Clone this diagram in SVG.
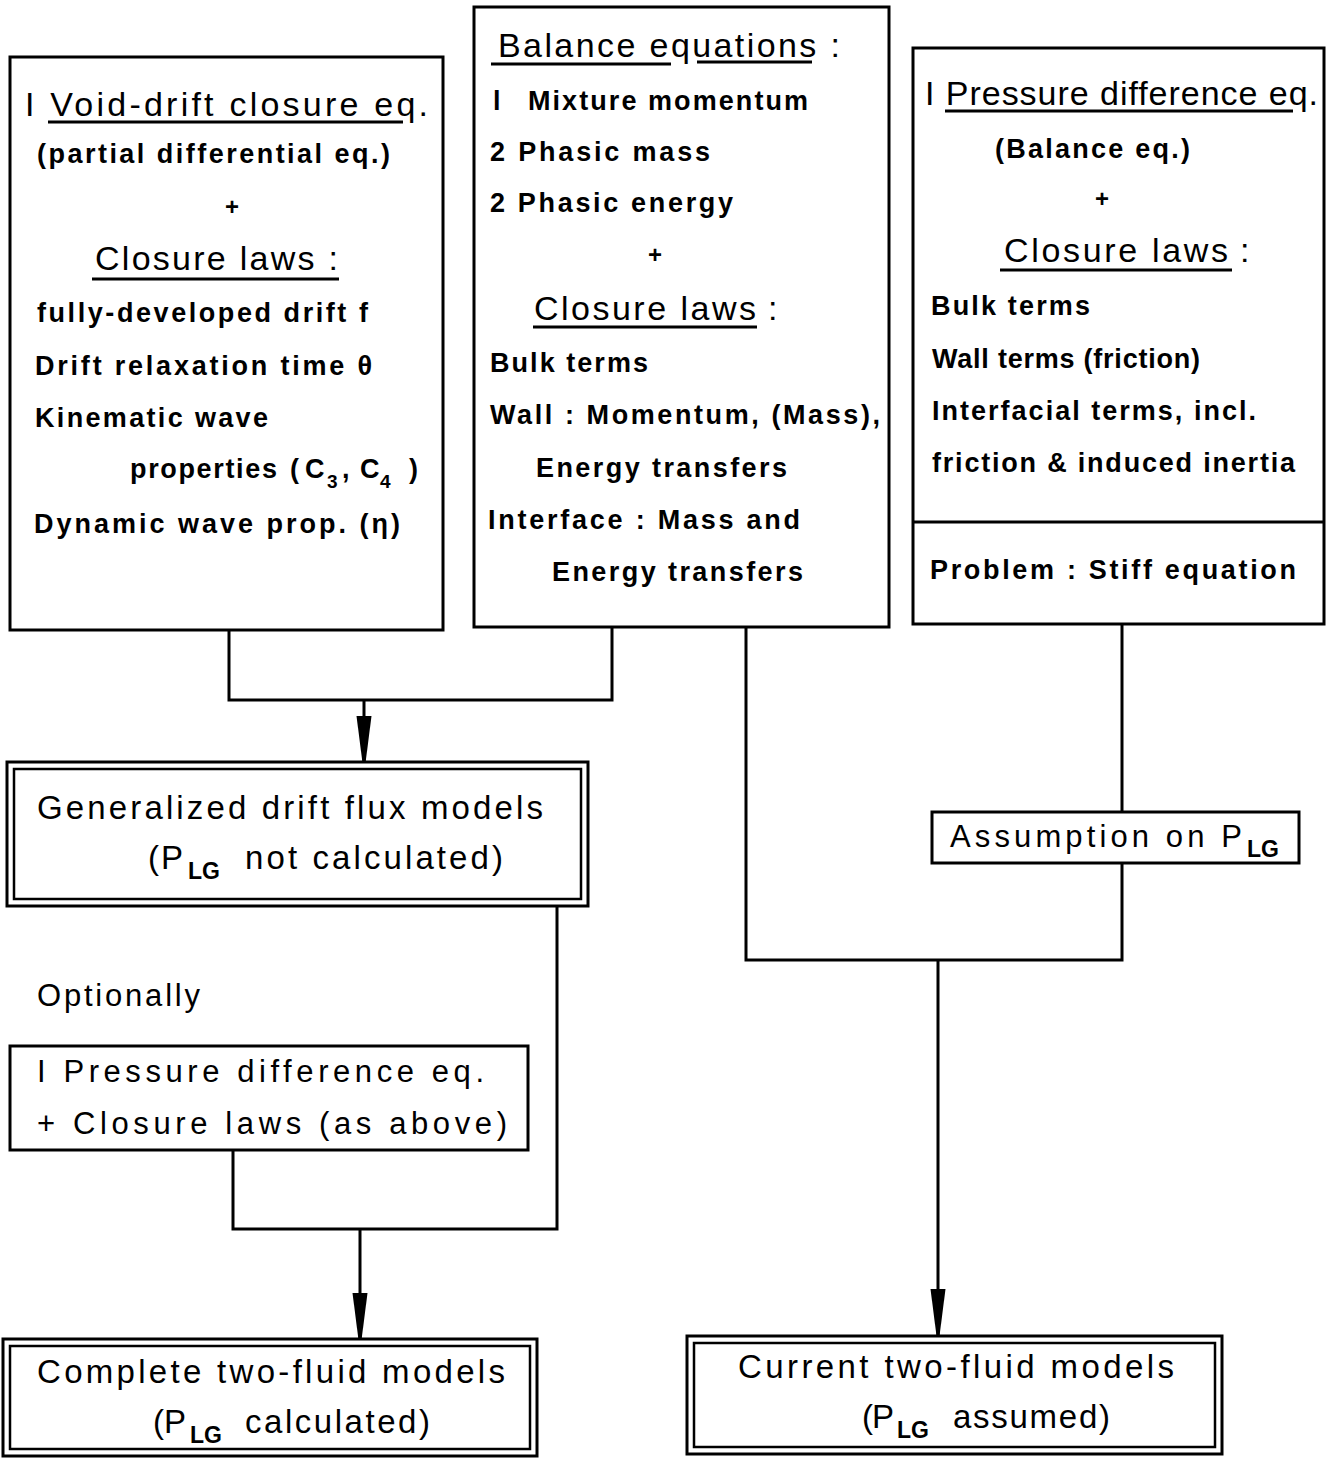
<svg xmlns="http://www.w3.org/2000/svg" width="1326" height="1458" viewBox="0 0 1326 1458">
<style>
text{font-family:"Liberation Sans","DejaVu Sans",Arial,sans-serif;fill:#000}
.h{font-size:34px;font-weight:normal}
.b{font-size:27px;font-weight:bold}
.m{font-size:33px;font-weight:normal}
.s{font-size:31px;font-weight:normal}
.sub{font-size:23px;font-weight:bold}
.subb{font-size:19px;font-weight:bold}
.plus{font-size:24px;font-weight:bold}
.box{fill:#fff;stroke:#000;stroke-width:3}
.inner{fill:none;stroke:#000;stroke-width:2.5}
.ul{stroke:#000;stroke-width:3}
.con{fill:none;stroke:#000;stroke-width:3}
</style>
<defs>
<marker id="arr" viewBox="0 -8 48 16" refX="47" refY="0" markerWidth="48" markerHeight="16" markerUnits="userSpaceOnUse" orient="auto">
<path d="M0,-7.5 L47,-1.5 L47,1.5 L0,7.5 Z" fill="#000"/>
</marker>
</defs>
<rect width="1326" height="1458" fill="#fff"/>

<g id="connectors">
<path class="con" d="M229,630 V700 H612 V627"/>
<line class="con" x1="364" y1="700" x2="364" y2="763" marker-end="url(#arr)"/>
<path class="con" d="M557,906 V1229 H233 V1150"/>
<line class="con" x1="360" y1="1229" x2="360" y2="1340" marker-end="url(#arr)"/>
<path class="con" d="M1122,624 V812"/>
<path class="con" d="M1122,863 V960 H746 V627"/>
<line class="con" x1="938" y1="960" x2="938" y2="1336" marker-end="url(#arr)"/>
</g>

<g id="void-drift">
<rect class="box" x="10" y="57" width="433" height="573"/>
<text class="h" x="25" y="116" textLength="403">I Void-drift closure eq.</text>
<line class="ul" x1="48" y1="122" x2="403" y2="122"/>
<text class="b" x="37" y="163" textLength="353">(partial differential eq.)</text>
<text class="plus" x="232" y="215" text-anchor="middle">+</text>
<text class="h" x="95" y="270" textLength="243">Closure laws :</text>
<line class="ul" x1="92" y1="279" x2="339" y2="279"/>
<text class="b" x="37" y="322" textLength="331">fully-developed drift f</text>
<text class="b" x="35" y="375" textLength="337">Drift relaxation time θ</text>
<text class="b" x="35" y="427" textLength="233">Kinematic wave</text>
<text class="b" y="478"><tspan x="130" textLength="147">properties</tspan><tspan x="290">(</tspan><tspan x="305">C</tspan><tspan class="subb" x="327" y="488">3</tspan><tspan x="342" y="478">,</tspan><tspan x="360">C</tspan><tspan class="subb" x="380" y="488">4</tspan><tspan x="409" y="478">)</tspan></text>
<text class="b" x="34" y="533" textLength="366">Dynamic wave prop. (η)</text>
</g>

<g id="balance">
<rect class="box" x="474" y="7" width="415" height="620"/>
<text class="h" x="498" y="57" textLength="342">Balance equations :</text>
<line class="ul" x1="491" y1="64" x2="671" y2="64"/>
<line class="ul" x1="697" y1="62" x2="812" y2="62"/>
<text class="b" x="493" y="110">l</text>
<text class="b" x="528" y="110" textLength="280">Mixture momentum</text>
<text class="b" x="490" y="161" textLength="220">2 Phasic mass</text>
<text class="b" x="490" y="212" textLength="243">2 Phasic energy</text>
<text class="plus" x="655" y="263" text-anchor="middle">+</text>
<text class="h" x="534" y="320" textLength="222">Closure laws</text>
<text class="h" x="768" y="320">:</text>
<line class="ul" x1="533" y1="327" x2="757" y2="327"/>
<text class="b" x="490" y="372" textLength="158">Bulk terms</text>
<text class="b" x="490" y="424" textLength="390">Wall : Momentum, (Mass),</text>
<text class="b" x="536" y="477" textLength="251">Energy transfers</text>
<text class="b" x="488" y="529" textLength="312">Interface : Mass and</text>
<text class="b" x="552" y="581" textLength="251">Energy transfers</text>
</g>

<g id="pressure-diff">
<rect class="box" x="913" y="48" width="411" height="576"/>
<text class="h" x="925" y="105" textLength="393">I Pressure difference eq.</text>
<line class="ul" x1="945" y1="111" x2="1293" y2="111"/>
<text class="b" x="995" y="158" textLength="195">(Balance eq.)</text>
<text class="plus" x="1102" y="207" text-anchor="middle">+</text>
<text class="h" x="1004" y="262" textLength="224">Closure laws</text>
<text class="h" x="1240" y="262">:</text>
<line class="ul" x1="1000" y1="270" x2="1232" y2="270"/>
<text class="b" x="931" y="315" textLength="159">Bulk terms</text>
<text class="b" x="932" y="368" textLength="268">Wall terms (friction)</text>
<text class="b" x="932" y="420" textLength="324">Interfacial terms, incl.</text>
<text class="b" x="932" y="472" textLength="363">friction &amp; induced inertia</text>
<line class="ul" x1="913" y1="522" x2="1324" y2="522"/>
<text class="b" x="930" y="579" textLength="366">Problem : Stiff equation</text>
</g>

<g id="drift-flux">
<rect class="box" x="7" y="762" width="581" height="144"/>
<rect class="inner" x="14" y="769" width="567" height="130"/>
<text class="m" x="37" y="819" textLength="506">Generalized drift flux models</text>
<text class="m" y="869"><tspan x="148">(</tspan><tspan x="161">P</tspan><tspan class="sub" x="188" y="879">LG</tspan><tspan x="245" y="869" textLength="258">not calculated)</tspan></text>
</g>

<g id="assumption">
<rect class="box" x="932" y="812" width="367" height="51"/>
<text class="s" y="847"><tspan x="950" textLength="292">Assumption on P</tspan><tspan class="sub" x="1247" y="857">LG</tspan></text>
</g>

<text class="s" x="37" y="1006" textLength="163">Optionally</text>

<g id="optional-pressure">
<rect class="box" x="10" y="1046" width="518" height="104"/>
<text class="s" x="37" y="1082" textLength="447">I Pressure difference eq.</text>
<text class="s" x="37" y="1134" textLength="470">+ Closure laws (as above)</text>
</g>

<g id="complete-two-fluid">
<rect class="box" x="3" y="1339" width="534" height="117"/>
<rect class="inner" x="10" y="1346" width="520" height="103"/>
<text class="m" x="37" y="1383" textLength="468">Complete two-fluid models</text>
<text class="m" y="1433"><tspan x="153">(</tspan><tspan x="164">P</tspan><tspan class="sub" x="190" y="1443">LG</tspan><tspan x="245" y="1433" textLength="185">calculated)</tspan></text>
</g>

<g id="current-two-fluid">
<rect class="box" x="687" y="1336" width="535" height="118"/>
<rect class="inner" x="694" y="1343" width="521" height="104"/>
<text class="m" x="738" y="1378" textLength="436">Current two-fluid models</text>
<text class="m" y="1428"><tspan x="862">(</tspan><tspan x="872">P</tspan><tspan class="sub" x="897" y="1438">LG</tspan><tspan x="953" y="1428" textLength="157">assumed)</tspan></text>
</g>
</svg>
